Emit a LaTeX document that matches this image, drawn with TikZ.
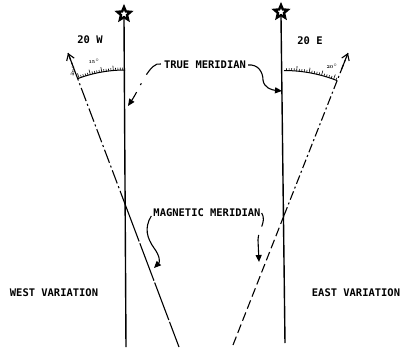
\documentclass[tikz,border=0pt]{standalone}
\usepackage{fontspec}
\setmonofont{DejaVu Sans Mono}
\usetikzlibrary{shapes.geometric,arrows.meta,calc}
\begin{document}
\begin{tikzpicture}[x=1bp,y=-1bp,
  lbl/.style={font=\ttfamily\bfseries\fontsize{10.5}{12}\selectfont,inner sep=0pt},
  tinylbl/.style={font=\fontsize{4.5}{5}\selectfont\bfseries,inner sep=0pt},
  meridian/.style={line width=1.4bp},
  magline/.style={line width=1.1bp},
  leader/.style={line width=1.1bp,-{Triangle[length=7bp,width=6bp]}},
  starmark/.style={star,star points=5,star point ratio=2.2,draw,line width=2.4bp,minimum size=14bp,inner sep=0pt},
  tip/.style={-{Straight Barb[length=6bp,width=8bp]}}]
\useasboundingbox (0,0) rectangle (403,350);
% true meridians
\node[starmark] (sL) at (124,14) {};
\node[starmark] (sR) at (281,12) {};
\coordinate (bL) at (126,347);
\coordinate (bR) at (285,343);
\draw[meridian] (sL.south) -- (bL);
\draw[meridian] (sR.south) -- (bR);
% magnetic meridians
\coordinate (tL) at (68,53);
\coordinate (mbL) at (179,347);
\coordinate (cL) at (125,204);
\draw[magline,dash pattern=on 14bp off 3bp on 2bp off 3bp] (cL) -- (tL);
\draw[magline,tip] ($(cL)!0.9!(tL)$) -- (tL);
\draw[magline,dash pattern=on 40bp off 2bp] (cL) -- (mbL);
\coordinate (tR) at (348,53);
\coordinate (mbR) at (233,345);
\coordinate (cR) at (284,215.5);
\draw[magline,dash pattern=on 9bp off 4bp] (mbR) -- (cR);
\draw[magline,dash pattern=on 9bp off 3bp on 2bp off 3bp] (cR) -- (tR);
\draw[magline,tip] ($(cR)!0.9!(tR)$) -- (tR);
% arcs with ticks
\draw[line width=1bp] (cL) ++(-90:134) arc[start angle=-90,end angle=-110.7,radius=134];
\foreach \a in {1,...,20}{
  \pgfmathsetmacro{\len}{ifthenelse(mod(\a,5)==0,5,2.5)}
  \draw[line width=0.6bp] ($(cL)+(-90-\a:134)$) -- ($(cL)+(-90-\a:134+\len)$);
}
\draw[line width=1bp] (cR) ++(-90:145) arc[start angle=-90,end angle=-68.5,radius=145];
\foreach \a in {1,...,21}{
  \pgfmathsetmacro{\len}{ifthenelse(mod(\a,5)==0,5,2.5)}
  \draw[line width=0.6bp] ($(cR)+(-90+\a:145)$) -- ($(cR)+(-90+\a:145+\len)$);
}
\node[tinylbl] (d15) at (94,61) {15$^\circ$};
\node[tinylbl,rotate=70] (d20) at (73,71) {20$^\circ$};
\node[tinylbl] (e20) at (332,66) {20$^\circ$};
% labels
\node[lbl] (w20) at (90,40) {20 W};
\node[lbl] (e20l) at (310,41) {20 E};
\node[lbl] (tm) at (205,65) {TRUE MERIDIAN};
\node[lbl] (mm) at (207,213) {MAGNETIC MERIDIAN};
\node[lbl] (wv) at (54,293) {WEST VARIATION};
\node[lbl] (ev) at (356,293) {EAST VARIATION};
% leaders
\draw[leader,dash pattern=on 19bp off 10bp on 2bp off 8bp on 30bp]
  (tm.west) ++(-3,-1) .. controls (150,61) and (140,88) .. (128,106);
\draw[leader] (tm.east) ++(2,0) .. controls (258,64) and (263,72) .. (263,80)
  .. controls (264,88) and (272,90) .. (282,91);
\draw[leader] (mm.west) ++(-2,3) .. controls (144,228) and (147,238) .. (154,248)
  .. controls (160,256) and (160,262) .. (154,268);
\draw[leader,dash pattern=on 14bp off 9bp on 30bp]
  (mm.east) ++(1,0) .. controls (267,222) and (258,230) .. (258,240) -- (259,262);
\end{tikzpicture}
\end{document}
